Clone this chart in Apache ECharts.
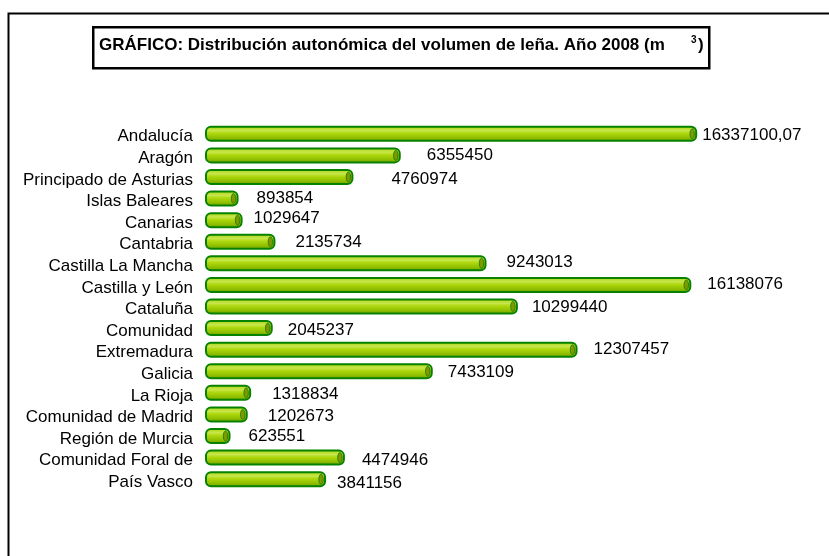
<!DOCTYPE html>
<html>
<head>
<meta charset="utf-8">
<script src="https://cdn.jsdelivr.net/npm/echarts@6/dist/echarts.min.js"></script>
<style>html,body{margin:0;padding:0;background:#fff;}#c{width:829px;height:556px;}</style>
</head>
<body>
<div id="c"></div>
<script>
const categories = ['Andalucía','Aragón','Principado de Asturias','Islas Baleares','Canarias','Cantabria','Castilla La Mancha','Castilla y León','Cataluña','Comunidad','Extremadura','Galicia','La Rioja','Comunidad de Madrid','Región de Murcia','Comunidad Foral de','País Vasco'];
const values = [16337100.07,6355450,4760974,893854,1029647,2135734,9243013,16138076,10299440,2045237,12307457,7433109,1318834,1202673,623551,4474946,3841156];
const valueLabels = ['16337100,07','6355450','4760974','893854','1029647','2135734','9243013','16138076','10299440','2045237','12307457','7433109','1318834','1202673','623551','4474946','3841156'];
// label placement offsets (px) relative to bar end, as in the original
const labelDx = [6,27,39,19,12,21,21,17,15,16,17,16,22,21,19,18,12];
const labelDy = [2,0,2,0,-1.5,0.5,-1,-1,0.5,2,0,1,1,2,0,3,4.5];

const FONT = '"Liberation Sans", Arial, Helvetica, sans-serif';
const chart = echarts.init(document.getElementById('c'), null, {renderer:'canvas'});

const barFill = new echarts.graphic.LinearGradient(0,0,0,1,[
  {offset:0, color:'#a6d300'},
  {offset:0.3, color:'#c8e650'},
  {offset:0.45, color:'#b0da10'},
  {offset:0.75, color:'#90bf00'},
  {offset:1, color:'#6c9a00'}
]);

function renderItem(params, api){
  const idx = api.value(0);
  const v = api.value(1);
  const p0 = api.coord([0, idx]);
  const p1 = api.coord([v, idx]);
  const h = 14;
  const x0 = p0[0] - 5;
  const x1 = p1[0];
  const y = p0[1] - h/2;
  const i = params.dataIndex;
  return {
    type:'group',
    children:[
      {type:'rect', shape:{x:x0, y:y, width:x1-x0, height:h, r:5},
       style:{fill:barFill, stroke:'#068200', lineWidth:2}},
      {type:'ellipse', shape:{cx:x1-4, cy:p0[1], rx:2.2, ry:h/2-2},
       style:{fill:'#7e9a00', stroke:'#2f8000', lineWidth:1}},
      {type:'text', x:x1 + labelDx[i], y:p0[1] + labelDy[i],
       style:{text:valueLabels[i], fill:'#000', font:'17px ' + FONT, textAlign:'left', textVerticalAlign:'middle'}}
    ]
  };
}

chart.setOption({
  animation:false,
  backgroundColor:'#fff',
  grid:{left:211, right:24, top:123, bottom:66, containLabel:false},
  xAxis:{type:'value', min:0, max:20000000, show:false},
  yAxis:{type:'category', data:categories, inverse:true,
    axisLine:{show:false}, axisTick:{show:false}, splitLine:{show:false},
    axisLabel:{margin:18, interval:0, formatter:'{a|{value}}',
      rich:{a:{color:'#000', fontSize:17, fontFamily:FONT, padding:[6,0,0,0]}}}},
  series:[{
    type:'custom',
    renderItem:renderItem,
    encode:{x:1, y:0},
    data: values.map((v,i)=>[i, v])
  }],
  graphic:[
    {type:'rect', left:6, top:11, shape:{x:0,y:0,width:900,height:600}, style:{fill:'none', stroke:'#000', lineWidth:2}, z:0},
    {type:'rect', left:92, top:26, shape:{x:0,y:0,width:616,height:41}, style:{fill:'#fff', stroke:'#000', lineWidth:2.5}, z:1},
    {type:'text', left:99, top:37, z:2,
     style:{text:'GRÁFICO: Distribución autonómica del volumen de leña. Año 2008 (m',
       font:'bold 17px ' + FONT, fill:'#000'}},
    {type:'text', left:691, top:35, z:2,
     style:{text:'3', font:'bold 10px ' + FONT, fill:'#000'}},
    {type:'text', left:698, top:37, z:2,
     style:{text:')', font:'bold 17px ' + FONT, fill:'#000'}}
  ]
});
</script>
</body>
</html>
